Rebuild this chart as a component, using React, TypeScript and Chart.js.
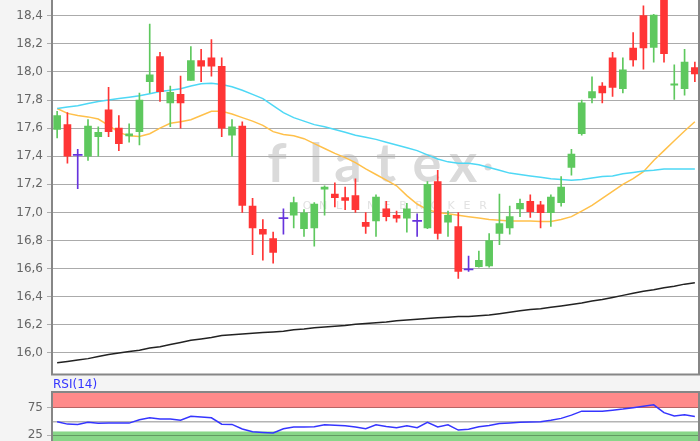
import React, { useEffect, useRef } from 'react';
import { Chart, registerables } from 'chart.js';

Chart.register(...registerables);

// ---------- DATA ----------
const labels: string[] = Array.from({ length: 63 }, (_, i) => String(i + 1));

const opens = [
  17.59, 17.625, 17.41, 17.40, 17.54, 17.73, 17.60, 17.545, 17.575, 17.93,
  18.11, 17.78, 17.84, 17.94, 18.08, 18.10, 18.04, 17.55, 17.615, 17.045,
  16.88, 16.815, 16.96, 16.98, 16.884, 16.89, 17.165, 17.13, 17.105, 17.12,
  16.93, 16.94, 17.025, 16.98, 16.96, 16.94, 16.89, 17.22, 16.93, 16.90,
  16.595, 16.615, 16.62, 16.85, 16.89, 17.025, 17.08, 17.055, 16.998, 17.07,
  17.32, 17.56, 17.815, 17.90, 18.10, 17.88, 18.17, 18.40, 18.175, 18.60,
  17.905, 17.88, 18.03,
];
const highs = [
  17.72, 17.71, 17.45, 17.66, 17.61, 17.89, 17.69, 17.63, 17.85, 18.34,
  18.14, 17.90, 17.97, 18.18, 18.16, 18.23, 18.10, 17.66, 17.645, 17.10,
  16.95, 16.86, 17.025, 17.11, 17.02, 17.07, 17.19, 17.21, 17.18, 17.24,
  17.00, 17.125, 17.08, 17.01, 17.065, 16.99, 17.22, 17.30, 17.01, 17.00,
  16.69, 16.725, 16.85, 17.13, 17.045, 17.095, 17.125, 17.08, 17.125, 17.255,
  17.45, 17.80, 17.965, 17.925, 18.14, 18.10, 18.28, 18.47, 18.41, 18.65,
  18.05, 18.16, 18.07,
];
const lows = [
  17.53, 17.35, 17.17, 17.37, 17.40, 17.54, 17.44, 17.50, 17.48, 17.85,
  17.79, 17.61, 17.60, 17.94, 17.93, 17.97, 17.54, 17.40, 17.00, 16.70,
  16.66, 16.64, 16.845, 16.89, 16.83, 16.76, 16.98, 17.04, 17.02, 17.00,
  16.85, 16.83, 16.94, 16.93, 16.86, 16.83, 16.885, 16.81, 16.83, 16.53,
  16.58, 16.61, 16.61, 16.77, 16.845, 16.97, 16.965, 16.89, 16.90, 17.045,
  17.265, 17.55, 17.78, 17.78, 17.825, 17.85, 18.04, 18.02, 18.07, 18.07,
  17.805, 17.835, 17.93,
];
const closes = [
  17.69, 17.40, 17.41, 17.615, 17.57, 17.575, 17.49, 17.56, 17.80, 17.98,
  17.86, 17.855, 17.78, 18.08, 18.04, 18.04, 17.60, 17.61, 17.05, 16.89,
  16.845, 16.715, 16.96, 17.07, 16.998, 17.06, 17.18, 17.105, 17.085, 17.02,
  16.90, 17.11, 16.97, 16.96, 17.025, 16.94, 17.20, 16.85, 16.98, 16.58,
  16.595, 16.66, 16.80, 16.92, 16.97, 17.065, 17.005, 16.998, 17.11, 17.18,
  17.415, 17.78, 17.86, 17.85, 17.89, 18.015, 18.085, 18.17, 18.405, 18.13,
  17.915, 18.07, 17.985,
];
const maFast = [
  17.74, 17.75, 17.76, 17.775, 17.79, 17.80, 17.81, 17.82, 17.83, 17.845,
  17.86, 17.87, 17.88, 17.90, 17.915, 17.92, 17.91, 17.895, 17.87, 17.84,
  17.81, 17.76, 17.71, 17.675, 17.65, 17.625, 17.61, 17.59, 17.57, 17.55,
  17.535, 17.52, 17.50, 17.48, 17.46, 17.44, 17.41, 17.38, 17.36, 17.35,
  17.35, 17.34, 17.32, 17.30, 17.28, 17.27, 17.26, 17.25, 17.24, 17.235,
  17.23, 17.235, 17.245, 17.255, 17.26, 17.275, 17.285, 17.295, 17.30, 17.31,
  17.31, 17.31, 17.31,
];
const maMid = [
  17.74, 17.705, 17.69, 17.68, 17.665, 17.62, 17.57, 17.545, 17.54, 17.56,
  17.60, 17.635, 17.645, 17.66, 17.69, 17.72, 17.72, 17.70, 17.675, 17.65,
  17.62, 17.575, 17.555, 17.545, 17.525, 17.49, 17.455, 17.42, 17.39, 17.355,
  17.31, 17.27, 17.23, 17.19, 17.12, 17.06, 17.02, 17.00, 16.99, 16.98,
  16.97, 16.96, 16.95, 16.945, 16.94, 16.94, 16.94, 16.935, 16.935, 16.95,
  16.97, 17.01, 17.05, 17.10, 17.15, 17.20, 17.24, 17.29, 17.37, 17.44,
  17.51, 17.58, 17.645,
];
const maSlow = [
  15.93, 15.94, 15.95, 15.96, 15.975, 15.99, 16.00, 16.01, 16.02, 16.035,
  16.045, 16.06, 16.075, 16.09, 16.10, 16.11, 16.125, 16.13, 16.135, 16.14,
  16.145, 16.15, 16.155, 16.165, 16.17, 16.18, 16.185, 16.19, 16.195, 16.205,
  16.21, 16.215, 16.22, 16.23, 16.235, 16.24, 16.245, 16.25, 16.255, 16.26,
  16.26, 16.265, 16.27, 16.28, 16.29, 16.30, 16.31, 16.315, 16.325, 16.335,
  16.345, 16.355, 16.37, 16.38, 16.395, 16.41, 16.425, 16.44, 16.45, 16.465,
  16.475, 16.49, 16.50,
];
const rsi = [
  50, 45.5, 44.8, 48.7, 47, 47.3, 47.3, 47.3, 53.5, 57,
  55, 55, 52.5, 60, 58.5, 57, 45.4, 45, 36.5, 31.5,
  30.3, 29.4, 37, 40, 40.4, 40.5, 44.2, 43.2, 42.3, 40,
  37, 44.2, 41, 39, 42.3, 39, 48.7, 40.4, 44.2, 34.6,
  36, 40.5, 43, 46.7, 47.5, 48.7, 49.5, 50, 52.5, 56,
  62, 69.2, 69.2, 69.2, 71, 73, 75.5, 78, 80.8, 66.5,
  60.2, 62.5, 59.6,
];
const priceTicks = [16.0, 16.2, 16.4, 16.6, 16.8, 17.0, 17.2, 17.4, 17.6, 17.8, 18.0, 18.2, 18.4];
const rsiTicks = [25, 75];
const rsiUpper = 75;
const rsiMiddle = 50;
const rsiLower = 32;
const watermarkText = 'flatex';
const watermarkSub = 'ONLINE BROKER';

// ---------- STYLE ----------
const UP = '#5ec85e';
const DOWN = '#ff3535';
const DOJI = '#6633dd';
const FONT = 'DejaVu Sans';

const candleColor = (i: number) =>
  closes[i] > opens[i] ? UP : closes[i] < opens[i] ? DOWN : DOJI;

const colors = opens.map((_, i) => candleColor(i));
const wickData = lows.map((l, i) => [l, highs[i]]);
const bodyData = opens.map((o, i) =>
  o === closes[i] ? null : [Math.min(o, closes[i]), Math.max(o, closes[i])]
);
const dojiData = opens.map((o, i) => (o === closes[i] ? [o - 0.0035, o + 0.0035] : null));

const yAxisFit = (s: any) => {
  s.width = 52;
  s.paddingTop = 0;
  s.paddingBottom = 0;
};

const mainDecor = {
  id: 'mainDecor',
  beforeDraw(chart: any) {
    const { ctx, chartArea: a } = chart;
    ctx.save();
    ctx.fillStyle = '#ffffff';
    ctx.fillRect(a.left, a.top, a.right - a.left, a.bottom - a.top);
    // watermark
    ctx.fillStyle = '#dadada';
    ctx.font = 'bold 54px Lato';
    ctx.textAlign = 'center';
    ctx.textBaseline = 'alphabetic';
    const xs = [277, 316, 348, 386, 427, 463];
    watermarkText.split('').forEach((ch, k) => ctx.fillText(ch, xs[k], 182));
    ctx.beginPath();
    ctx.arc(488, 167, 3.5, 0, Math.PI * 2);
    ctx.fill();
    ctx.fillStyle = '#e2e2e2';
    ctx.font = '11px ' + FONT;
    const sub = watermarkSub.replace(/ /g, '');
    sub.split('').forEach((ch, k) => ctx.fillText(ch, 307 + k * 16, 209));
    ctx.restore();
  },
  afterDraw(chart: any) {
    const { ctx, chartArea: a } = chart;
    ctx.save();
    ctx.strokeStyle = '#868686';
    ctx.lineWidth = 2;
    ctx.beginPath();
    ctx.moveTo(a.left, a.top - 5);
    ctx.lineTo(a.left, a.bottom);
    ctx.lineTo(a.right - 1, a.bottom);
    ctx.lineTo(a.right - 1, a.top - 5);
    ctx.stroke();
    ctx.restore();
  },
};

const rsiDecor = {
  id: 'rsiDecor',
  beforeDraw(chart: any) {
    const { ctx, chartArea: a, scales } = chart;
    const y = scales.y;
    ctx.save();
    ctx.fillStyle = '#ffffff';
    ctx.fillRect(a.left, a.top, a.right - a.left, a.bottom - a.top);
    const yU = y.getPixelForValue(rsiUpper);
    const yL = y.getPixelForValue(rsiLower);
    ctx.fillStyle = '#ff8a8a';
    ctx.fillRect(a.left, a.top, a.right - a.left, yU - a.top);
    ctx.fillStyle = '#88d688';
    ctx.fillRect(a.left, yL, a.right - a.left, a.bottom - yL);
    const yM = y.getPixelForValue(rsiMiddle);
    ctx.strokeStyle = '#b4b4b4';
    ctx.lineWidth = 1.5;
    ctx.beginPath();
    ctx.moveTo(a.left, yM);
    ctx.lineTo(a.right, yM);
    ctx.stroke();
    ctx.restore();
  },
  afterDraw(chart: any) {
    const { ctx, chartArea: a } = chart;
    ctx.save();
    ctx.strokeStyle = '#868686';
    ctx.lineWidth = 2;
    ctx.strokeRect(a.left, a.top, a.right - 1 - a.left, a.bottom - a.top);
    ctx.restore();
  },
};

export default function App() {
  const mainRef = useRef<HTMLCanvasElement>(null);
  const rsiRef = useRef<HTMLCanvasElement>(null);

  useEffect(() => {
    const main = new Chart(mainRef.current as HTMLCanvasElement, {
      type: 'bar',
      data: {
        labels,
        datasets: [
          {
            type: 'line',
            data: maSlow,
            borderColor: '#222222',
            borderWidth: 1.5,
            pointRadius: 0,
            order: 5,
          } as any,
          {
            type: 'line',
            data: maMid,
            borderColor: '#ffc04a',
            borderWidth: 1.5,
            pointRadius: 0,
            order: 4,
          } as any,
          {
            type: 'line',
            data: maFast,
            borderColor: '#4ed8f5',
            borderWidth: 1.5,
            pointRadius: 0,
            order: 3,
          } as any,
          {
            data: wickData as any,
            backgroundColor: colors,
            barThickness: 1,
            grouped: false,
            order: 2,
          } as any,
          {
            data: bodyData as any,
            backgroundColor: colors,
            barThickness: 7,
            grouped: false,
            order: 1,
          } as any,
          {
            data: dojiData as any,
            backgroundColor: colors,
            barThickness: 9,
            grouped: false,
            order: 0,
          } as any,
        ],
      },
      options: {
        responsive: false,
        animation: false,
        layout: { padding: { left: 0, right: 0, top: 0, bottom: 1.5 } },
        plugins: { legend: { display: false }, tooltip: { enabled: false } },
        scales: {
          x: { display: false, offset: true },
          y: {
            min: 15.847,
            max: 18.5117,
            afterBuildTicks: (s: any) => {
              s.ticks = priceTicks.map((v) => ({ value: v }));
            },
            afterFit: yAxisFit,
            border: { display: false },
            grid: { color: '#ababab', lineWidth: 1, tickLength: 5 },
            ticks: {
              color: '#666666',
              padding: 4,
              font: { family: FONT, size: 12 },
              callback: (v: any) => Number(v).toFixed(1).replace('.', ','),
            },
          },
        },
      },
      plugins: [mainDecor],
    } as any);

    const rsiChart = new Chart(rsiRef.current as HTMLCanvasElement, {
      type: 'line',
      data: {
        labels,
        datasets: [
          {
            data: rsi,
            borderColor: '#3535ff',
            borderWidth: 1.5,
            pointRadius: 0,
          },
        ],
      },
      options: {
        responsive: false,
        animation: false,
        layout: { padding: { left: 0, right: 0, top: 16, bottom: 7.05 } },
        plugins: { legend: { display: false }, tooltip: { enabled: false } },
        scales: {
          x: { type: 'category', display: false, offset: true },
          y: {
            min: 0,
            max: 104.3,
            afterBuildTicks: (s: any) => {
              s.ticks = rsiTicks.map((v) => ({ value: v }));
            },
            afterFit: yAxisFit,
            border: { display: false },
            grid: { color: 'rgba(0,0,0,0.28)', lineWidth: 1, tickLength: 5 },
            ticks: {
              color: '#666666',
              padding: 4,
              font: { family: FONT, size: 12 },
              callback: (v: any) => String(v),
            },
          },
        },
      },
      plugins: [rsiDecor],
    } as any);

    return () => {
      main.destroy();
      rsiChart.destroy();
    };
  }, []);

  return (
    <div
      style={{
        position: 'fixed',
        left: 0,
        top: 0,
        width: 700,
        height: 441,
        overflow: 'hidden',
        background: '#f4f4f4',
      }}
    >
      <canvas
        ref={mainRef}
        width={700}
        height={376}
        style={{ position: 'absolute', left: 0, top: 0, width: 700, height: 376, display: 'block' }}
      />
      <canvas
        ref={rsiRef}
        width={700}
        height={80}
        style={{ position: 'absolute', left: 0, top: 376, width: 700, height: 80, display: 'block' }}
      />
      <div
        style={{
          position: 'absolute',
          left: 53,
          top: 377,
          fontFamily: FONT,
          fontSize: 12,
          lineHeight: '14px',
          color: '#3535ff',
        }}
      >
        RSI(14)
      </div>
    </div>
  );
}
